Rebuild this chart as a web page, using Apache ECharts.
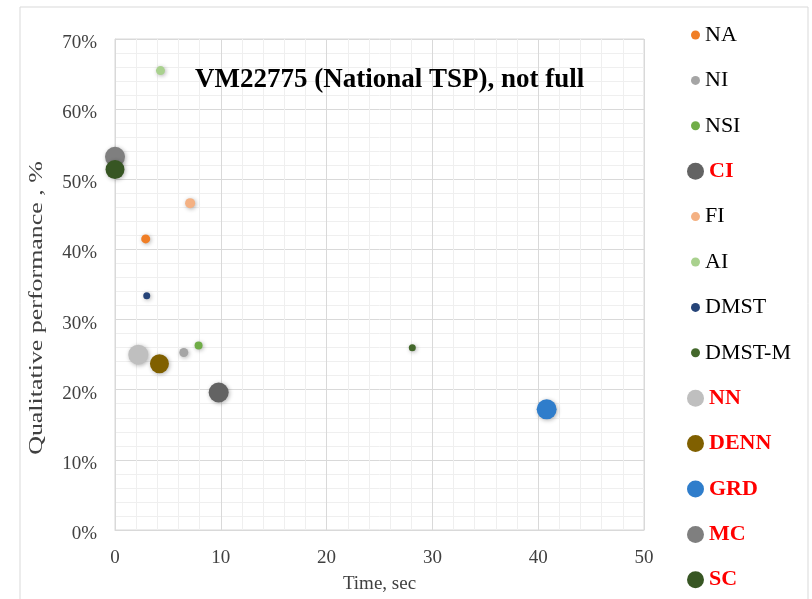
<!DOCTYPE html>
<html>
<head>
<meta charset="utf-8">
<script src="https://cdn.jsdelivr.net/npm/echarts@6/dist/echarts.min.js"></script>
<style>
  html, body { margin: 0; padding: 0; background: #fff; }
  #main { width: 812px; height: 599px; }
</style>
</head>
<body>
<div id="main"></div>
<script>
// data
var methods = ['NA', 'NI', 'NSI', 'CI', 'FI', 'AI', 'DMST', 'DMST-M', 'NN', 'DENN', 'GRD', 'MC', 'SC'];
var timeSec = [2.9, 6.5, 7.9, 9.8, 7.1, 4.3, 3.0, 28.1, 2.2, 4.2, 40.8, 0.0, 0.0];
var perfPct = [41.5, 25.3, 26.3, 19.6, 46.6, 65.5, 33.4, 26.0, 25.0, 23.7, 17.2, 53.2, 51.4];
var xTicks = [0, 10, 20, 30, 40, 50];
var yTicks = [0, 10, 20, 30, 40, 50, 60, 70];

// styles
var colors = ['#F07E26', '#A5A5A5', '#70AD47', '#636363', '#F4B183', '#A9D18E', '#264478',
  '#43682B', '#BFBFBF', '#806000', '#2F7DCB', '#7F7F7F', '#375623'];
var dotSize = [9, 9, 8, 20, 10, 9, 7, 7, 20, 19, 20, 20, 19];
var bigOne = [0, 0, 0, 1, 0, 0, 0, 0, 1, 1, 1, 1, 1];

var chart = echarts.init(document.getElementById('main'));
var serif = '"Liberation Serif", "DejaVu Serif", serif';

var series = methods.map(function (m, i) {
  return {
    name: m,
    type: 'scatter',
    symbol: 'circle',
    symbolSize: dotSize[i],
    data: [[timeSec[i], perfPct[i]]],
    itemStyle: {
      color: colors[i],
      opacity: 1,
      shadowBlur: 4,
      shadowColor: 'rgba(0,0,0,0.3)',
      shadowOffsetX: 1,
      shadowOffsetY: 1
    }
  };
});

// one legend per entry so the icon sizes can differ
var legends = methods.map(function (m, i) {
  var w = bigOne[i] ? 17 : 9;
  return {
    data: [m],
    orient: 'vertical',
    left: bigOne[i] ? 687 : 691,
    top: 34 + i * 45.4 - 10,
    padding: 0,
    itemWidth: w,
    itemHeight: w,
    selectedMode: false,
    itemStyle: { shadowBlur: 0, shadowColor: 'transparent', shadowOffsetX: 0, shadowOffsetY: 0 },
    textStyle: {
      fontFamily: serif,
      fontSize: 22,
      color: bigOne[i] ? '#FF0000' : '#000',
      fontWeight: bigOne[i] ? 'bold' : 'normal'
    }
  };
});

var option = {
  animation: false,
  backgroundColor: '#fff',
  title: {
    text: 'VM22775 (National TSP), not full',
    left: 195,
    top: 67,
    padding: 0,
    textStyle: { fontFamily: serif, fontSize: 27, fontWeight: 'bold', color: '#000' }
  },
  legend: legends,
  grid: {
    left: 115, right: 168, top: 39, bottom: 66,
    show: true, borderColor: '#d9d9d9', borderWidth: 1
  },
  xAxis: {
    type: 'value',
    min: xTicks[0],
    max: xTicks[xTicks.length - 1],
    interval: 10,
    name: 'Time, sec',
    nameLocation: 'middle',
    nameGap: 45,
    nameTextStyle: { fontFamily: serif, fontSize: 19, color: '#404040' },
    axisLine: { show: true, lineStyle: { color: '#d9d9d9' } },
    axisTick: { show: false },
    axisLabel: { fontFamily: serif, fontSize: 19, color: '#404040', margin: 19 },
    splitLine: { show: true, lineStyle: { color: '#d9d9d9' } },
    minorTick: { show: false, splitNumber: 5 },
    minorSplitLine: { show: true, lineStyle: { color: '#efefef' } }
  },
  yAxis: {
    type: 'value',
    min: yTicks[0],
    max: yTicks[yTicks.length - 1],
    interval: 10,
    axisLine: { show: true, lineStyle: { color: '#d9d9d9' } },
    axisTick: { show: false },
    axisLabel: {
      fontFamily: serif, fontSize: 19, color: '#404040', margin: 18,
      verticalAlign: 'top', lineHeight: 8, formatter: '{value}%'
    },
    splitLine: { show: true, lineStyle: { color: '#d9d9d9' } },
    minorTick: { show: false, splitNumber: 5 },
    minorSplitLine: { show: true, lineStyle: { color: '#efefef' } }
  },
  graphic: [
    {
      type: 'rect',
      shape: { x: 20, y: 7, width: 788, height: 600 },
      style: { fill: 'none', stroke: '#d9d9d9', lineWidth: 1 },
      silent: true,
      z: -10
    },
    {
      type: 'text',
      x: 37,
      y: 308,
      rotation: Math.PI / 2,
      scaleX: 1.44,
      style: {
        text: 'Qualitative performance , %',
        font: '18px ' + serif,
        fill: '#404040',
        align: 'center',
        verticalAlign: 'middle'
      }
    }
  ],
  series: series
};

chart.setOption(option);
</script>
</body>
</html>
